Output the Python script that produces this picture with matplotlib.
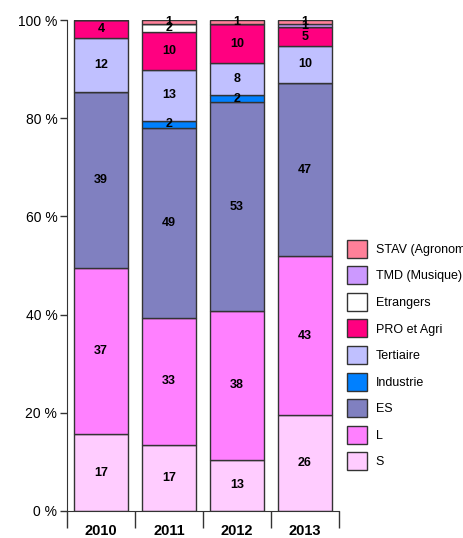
import matplotlib
matplotlib.use('Agg')
import matplotlib.pyplot as plt
import numpy as np

plt.rcParams['font.family'] = ['Liberation Sans', 'DejaVu Sans']

# Data: counts per year and track (shown as 100% stacked bars)
years = ['2010', '2011', '2012', '2013']
series = ['S', 'L', 'ES', 'Industrie', 'Tertiaire', 'PRO et Agri',
          'Etrangers', 'TMD (Musique)', 'STAV (Agronomie)']
s_vals = [17, 17, 13, 26]
l_vals = [37, 33, 38, 43]
es_vals = [39, 49, 53, 47]
industrie_vals = [0, 2, 2, 0]
tertiaire_vals = [12, 13, 8, 10]
pro_vals = [4, 10, 10, 5]
etrangers_vals = [0, 2, 0, 0]
tmd_vals = [0, 0, 0, 1]
stav_vals = [0, 1, 1, 1]
colors = ['#FFCCFF', '#FF80FF', '#8080C0', '#0080FF', '#C0C0FF',
          '#FF0080', '#FFFFFF', '#CC99FF', '#FF8099']

values = np.array([s_vals, l_vals, es_vals, industrie_vals, tertiaire_vals,
                   pro_vals, etrangers_vals, tmd_vals, stav_vals], dtype=float)
totals = values.sum(axis=0)
pct = values / totals * 100

fig = plt.figure(figsize=(4.63, 5.38), dpi=100)
ax = fig.add_axes([0.1447, 0.0502, 0.5875, 0.9126])

x = np.arange(len(years))
bottom = np.zeros(len(years))
handles = []
for i, name in enumerate(series):
    bars = ax.bar(x, pct[i], 0.8, bottom=bottom, color=colors[i],
                  edgecolor='#333333', linewidth=1.0, label=name)
    handles.append(bars)
    for j in range(len(years)):
        if values[i, j] > 0:
            ax.text(x[j], bottom[j] + pct[i, j] / 2, f'{int(values[i, j])}',
                    ha='center', va='center', fontsize=9, fontweight='bold')
    bottom += pct[i]

ax.set_xlim(-0.5, len(years) - 0.5)
ax.set_ylim(0, 100)
ax.set_yticks(range(0, 101, 20))
ax.set_yticklabels([f'{v} %' for v in range(0, 101, 20)], fontsize=10)
ax.set_xticks(x)
ax.set_xticklabels(years, fontsize=10.5, fontweight='bold')
ax.set_xticks(np.arange(-0.5, len(years), 1.0), minor=True)
ax.tick_params(axis='x', which='major', length=0, pad=9.5)
ax.tick_params(axis='x', which='minor', length=12, width=1, color='#333333', direction='out')
ax.tick_params(axis='y', length=5, width=1, color='#333333', pad=2)
ax.spines['top'].set_visible(False)
ax.spines['right'].set_visible(False)
for sp in ['left', 'bottom']:
    ax.spines[sp].set_color('#333333')

fig.legend(handles[::-1], series[::-1], loc='upper left',
           bbox_to_anchor=(0.7495, 0.554), frameon=False, fontsize=9,
           handlelength=1.6, handleheight=1.84, labelspacing=0.68,
           handletextpad=0.7, borderaxespad=0, borderpad=0)

fig.savefig('out.png', dpi=100)
